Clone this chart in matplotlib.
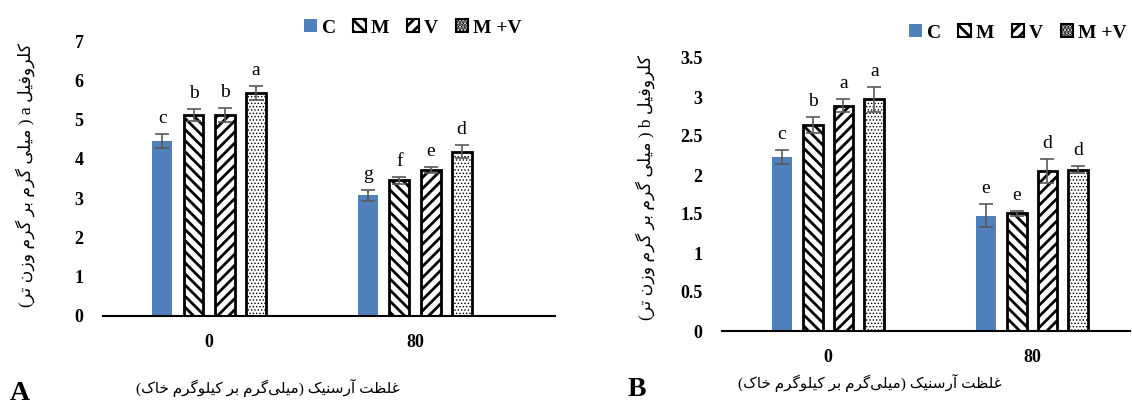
import matplotlib
matplotlib.use("Agg")
import matplotlib.pyplot as plt
from matplotlib.patches import Patch
import numpy as np

plt.rcParams['hatch.linewidth'] = 2.0
SERIF = ['Liberation Serif', 'DejaVu Sans']
plt.rcParams['font.family'] = SERIF

# ---------------- data ----------------
categories = ['0', '80']
series = ['C', 'M', 'V', 'M +V']

chl_a = [[4.45, 5.12, 5.12, 5.68],
         [3.07, 3.45, 3.72, 4.18]]
chl_a_err = [[0.18, 0.15, 0.18, 0.18],
             [0.15, 0.10, 0.08, 0.17]]
chl_a_letters = [['c', 'b', 'b', 'a'],
                 ['g', 'f', 'e', 'd']]

chl_b = [[2.23, 2.64, 2.89, 2.97],
         [1.48, 1.51, 2.05, 2.07]]
chl_b_err = [[0.09, 0.10, 0.08, 0.16],
             [0.15, 0.03, 0.15, 0.05]]
chl_b_letters = [['c', 'b', 'a', 'a'],
                 ['e', 'e', 'd', 'd']]

ylabel_a = 'کلروفیل a ( میلی گرم بر گرم وزن تر)'
ylabel_b = 'کلروفیل b ( میلی گرم بر گرم وزن تر)'
xlabel = 'غلظت آرسنیک (میلی\u200cگرم بر کیلوگرم خاک)'

# ---------------- simple Persian shaping ----------------
FORMS = {
    '\u0627': ('\uFE8D', '\uFE8E'),
    '\u0622': ('\uFE81', '\uFE82'),
    '\u0631': ('\uFEAD', '\uFEAE'),
    '\u0632': ('\uFEAF', '\uFEB0'),
    '\u0648': ('\uFEED', '\uFEEE'),
    '\u0628': ('\uFE8F', '\uFE90', '\uFE91', '\uFE92'),
    '\u062A': ('\uFE95', '\uFE96', '\uFE97', '\uFE98'),
    '\u062E': ('\uFEA5', '\uFEA6', '\uFEA7', '\uFEA8'),
    '\u0633': ('\uFEB1', '\uFEB2', '\uFEB3', '\uFEB4'),
    '\u0638': ('\uFEC5', '\uFEC6', '\uFEC7', '\uFEC8'),
    '\u063A': ('\uFECD', '\uFECE', '\uFECF', '\uFED0'),
    '\u0641': ('\uFED1', '\uFED2', '\uFED3', '\uFED4'),
    '\u0644': ('\uFEDD', '\uFEDE', '\uFEDF', '\uFEE0'),
    '\u0645': ('\uFEE1', '\uFEE2', '\uFEE3', '\uFEE4'),
    '\u0646': ('\uFEE5', '\uFEE6', '\uFEE7', '\uFEE8'),
    '\u06A9': ('\uFB8E', '\uFB8F', '\uFB90', '\uFB91'),
    '\u06AF': ('\uFB92', '\uFB93', '\uFB94', '\uFB95'),
    '\u06CC': ('\uFBFC', '\uFBFD', '\uFBFE', '\uFBFF'),
}


def shape(text):
    out = []
    n = len(text)
    for i, ch in enumerate(text):
        if ch == '\u200c':
            continue
        if ch not in FORMS:
            out.append(ch)
            continue
        f = FORMS[ch]
        prev = text[i - 1] if i > 0 else ''
        nxt = text[i + 1] if i + 1 < n else ''
        pj = prev in FORMS and len(FORMS[prev]) == 4
        nj = len(f) == 4 and nxt in FORMS
        if pj and nj:
            out.append(f[3])
        elif pj:
            out.append(f[1])
        elif nj:
            out.append(f[2])
        else:
            out.append(f[0])
    vis = ''.join(reversed(out))
    vis = vis.translate(str.maketrans({'(': ')', ')': '('}))
    return vis


# ---------------- drawing ----------------
fig = plt.figure(figsize=(11.32, 4.09), dpi=100)

styles = [
    dict(color='#4F81BD', edgecolor='none', hatch=None, hlw=2.0),
    dict(color='white', edgecolor='black', hatch='\\\\\\', hlw=2.0),
    dict(color='white', edgecolor='black', hatch='///', hlw=2.0),
    dict(color='white', edgecolor='black', hatch='.....', hlw=0.6),
]

offsets = np.array([-1.5, -0.5, 0.5, 1.5]) * 0.151
bw = 0.097


def set_hlw(artist, lw):
    if hasattr(artist, 'set_hatch_linewidth'):
        try:
            artist.set_hatch_linewidth(lw)
        except Exception:
            pass


def panel(rect, vals, errs, letters, ylim, yticks, ytl, xlim):
    ax = fig.add_axes(rect)
    x = np.arange(len(categories))
    vals = np.array(vals)
    errs = np.array(errs)
    for j in range(len(series)):
        st = styles[j]
        with plt.rc_context({'hatch.linewidth': st['hlw']}):
            bars = ax.bar(x + offsets[j], vals[:, j], width=bw, color=st['color'],
                          edgecolor=st['edgecolor'], hatch=st['hatch'],
                          linewidth=2.0 if st['hatch'] else 0, zorder=2)
        for b in bars:
            set_hlw(b, st['hlw'])
        ax.errorbar(x + offsets[j], vals[:, j], yerr=errs[:, j], fmt='none',
                    ecolor='#595959', elinewidth=1.2, capsize=5, capthick=1.2,
                    zorder=3)
        for i in range(len(categories)):
            ax.annotate(letters[i][j], (x[i] + offsets[j], vals[i, j] + errs[i, j]),
                        xytext=(0, 5), textcoords='offset points',
                        ha='center', va='bottom', fontsize=14,
                        family=SERIF)
    ax.set_ylim(*ylim)
    ax.set_xlim(*xlim)
    ax.set_yticks(yticks)
    ax.set_yticklabels(ytl, fontsize=13, fontweight='bold')
    ax.set_xticks(x)
    ax.set_xticklabels(categories, fontsize=13, fontweight='bold')
    ax.tick_params(axis='both', length=0)
    ax.tick_params(axis='y', pad=14)
    ax.tick_params(axis='x', pad=13)
    for s in ['top', 'right', 'left']:
        ax.spines[s].set_visible(False)
    ax.spines['bottom'].set_linewidth(1.5)
    return ax


axA = panel([103 / 1132, 1 - 316 / 409, 452 / 1132, 275 / 409],
            chl_a, chl_a_err, chl_a_letters, (0, 7), range(8),
            [str(v) for v in range(8)], (-0.515, 1.68))
axB = panel([722 / 1132, 1 - 331 / 409, 408 / 1132, 273 / 409],
            chl_b, chl_b_err, chl_b_letters, (0, 3.5),
            np.arange(0, 3.6, 0.5),
            ['0', '0.5', '1', '1.5', '2', '2.5', '3', '3.5'], (-0.52, 1.48))

for (cx, cy) in [(413 / 1132, 1 - 28 / 409), (1018 / 1132, 1 - 33 / 409)]:
    handles = []
    for j, s in enumerate(series):
        st = styles[j]
        with plt.rc_context({'hatch.linewidth': st['hlw']}):
            p = Patch(facecolor=st['color'], edgecolor=st['edgecolor'],
                      hatch=st['hatch'], linewidth=1.5 if st['hatch'] else 0,
                      label=s)
        set_hlw(p, st['hlw'])
        handles.append(p)
    fig.legend(handles=handles, loc='center', bbox_to_anchor=(cx, cy), ncol=4,
               frameon=False, handlelength=0.65, handleheight=0.65,
               handletextpad=0.25, columnspacing=0.9,
               prop=dict(family=SERIF, weight='bold', size=14))

fig.text(25 / 1132, 1 - 175 / 409, shape(ylabel_a), rotation=90,
         ha='center', va='center', fontsize=12.5, family=SERIF)
fig.text(645 / 1132, 1 - 187 / 409, shape(ylabel_b), rotation=90,
         ha='center', va='center', fontsize=12.5, family=SERIF)
fig.text(268 / 1132, 1 - 388 / 409, shape(xlabel), ha='center', va='center',
         fontsize=11, family=SERIF)
fig.text(870 / 1132, 1 - 383 / 409, shape(xlabel), ha='center', va='center',
         fontsize=11, family=SERIF)
fig.text(20 / 1132, 1 - 394 / 409, 'A', ha='center', va='center',
         fontsize=20, fontweight='bold', family=SERIF)
fig.text(637 / 1132, 1 - 389 / 409, 'B', ha='center', va='center',
         fontsize=20, fontweight='bold', family=SERIF)

fig.savefig('out.png', dpi=100)
